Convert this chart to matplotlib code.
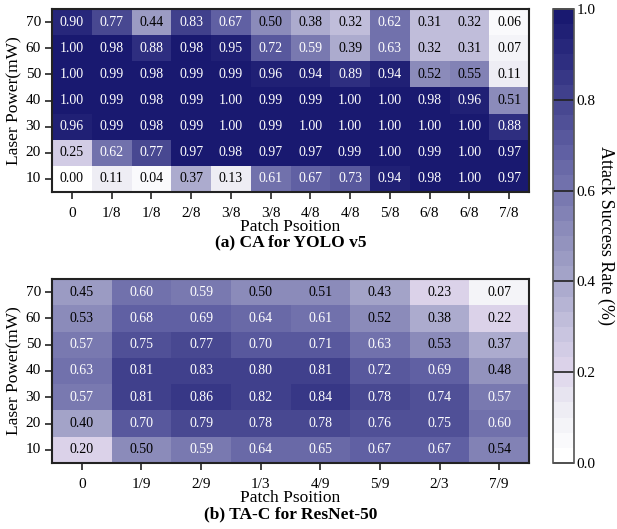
import matplotlib
matplotlib.use("Agg")
import matplotlib.pyplot as plt
import numpy as np
import seaborn as sns
from matplotlib.colors import LinearSegmentedColormap, ListedColormap, Normalize
from matplotlib.cm import ScalarMappable

plt.rcParams['font.family'] = ['Liberation Serif', 'DejaVu Serif']

powers = [70, 60, 50, 40, 30, 20, 10]

pos_a = ['0', '1/8', '1/8', '2/8', '3/8', '3/8', '4/8', '4/8', '5/8', '6/8', '6/8', '7/8']
rate_a = [
    [0.90, 0.77, 0.44, 0.83, 0.67, 0.50, 0.38, 0.32, 0.62, 0.31, 0.32, 0.06],
    [1.00, 0.98, 0.88, 0.98, 0.95, 0.72, 0.59, 0.39, 0.63, 0.32, 0.31, 0.07],
    [1.00, 0.99, 0.98, 0.99, 0.99, 0.96, 0.94, 0.89, 0.94, 0.52, 0.55, 0.11],
    [1.00, 0.99, 0.98, 0.99, 1.00, 0.99, 0.99, 1.00, 1.00, 0.98, 0.96, 0.51],
    [0.96, 0.99, 0.98, 0.99, 1.00, 0.99, 1.00, 1.00, 1.00, 1.00, 1.00, 0.88],
    [0.25, 0.62, 0.77, 0.97, 0.98, 0.97, 0.97, 0.99, 1.00, 0.99, 1.00, 0.97],
    [0.00, 0.11, 0.04, 0.37, 0.13, 0.61, 0.67, 0.73, 0.94, 0.98, 1.00, 0.97],
]

pos_b = ['0', '1/9', '2/9', '1/3', '4/9', '5/9', '2/3', '7/9']
rate_b = [
    [0.45, 0.60, 0.59, 0.50, 0.51, 0.43, 0.23, 0.07],
    [0.53, 0.68, 0.69, 0.64, 0.61, 0.52, 0.38, 0.22],
    [0.57, 0.75, 0.77, 0.70, 0.71, 0.63, 0.53, 0.37],
    [0.63, 0.81, 0.83, 0.80, 0.81, 0.72, 0.69, 0.48],
    [0.57, 0.81, 0.86, 0.82, 0.84, 0.78, 0.74, 0.57],
    [0.40, 0.70, 0.79, 0.78, 0.78, 0.76, 0.75, 0.60],
    [0.20, 0.50, 0.59, 0.64, 0.65, 0.67, 0.67, 0.54],
]

nodes = ['#ffffff', '#eeeef4', '#dcd3ea', '#c3c0dc', '#a6a6ca', '#8f8fbc',
         '#7676ae', '#5e5ea2', '#474790', '#2e2e80', '#191970']
smooth = LinearSegmentedColormap.from_list('asr', nodes)
cmap = ListedColormap(smooth(np.linspace(0, 1, 30)))

fig = plt.figure(figsize=(6.17, 5.29), dpi=100)
W, H = 617, 529


def box(x0, y0, x1, y1):
    return [x0 / W, 1 - y1 / H, (x1 - x0) / W, (y1 - y0) / H]


def panel(ax, data, labels, title, title_y):
    arr = np.array(data)
    sns.heatmap(arr, ax=ax, cmap=cmap, vmin=0, vmax=1, cbar=False,
                annot=True, fmt='.2f', annot_kws={'fontsize': 10},
                xticklabels=labels, yticklabels=powers)
    for t in ax.texts:
        v = float(t.get_text())
        t.set_color('black' if v < 0.555 else 'white')
    for s in ax.spines.values():
        s.set_visible(True)
        s.set_linewidth(1.5)
        s.set_color('#222222')
    ax.tick_params(axis='both', length=5, width=1.2, labelsize=11, color='#222222')
    ax.tick_params(axis='x', pad=6, rotation=0)
    ax.tick_params(axis='y', rotation=0, pad=3)
    ax.set_xlabel('Patch Psoition', fontsize=12.5, labelpad=-1)
    ax.set_ylabel('Laser Power(mW)', fontsize=12.5, labelpad=2)
    fig.text(0.5 * (52 + 529) / W, 1 - title_y / H, title, ha='center', va='center',
             fontsize=12.5, fontweight='bold')


ax1 = fig.add_axes(box(52, 9, 529, 192))
panel(ax1, rate_a, pos_a, '(a) CA for YOLO v5', 242)
ax2 = fig.add_axes(box(52, 279, 529, 463))
panel(ax2, rate_b, pos_b, '(b) TA-C for ResNet-50', 514)

cax = fig.add_axes(box(553, 9, 574, 463))
cb = fig.colorbar(ScalarMappable(norm=Normalize(0, 1), cmap=cmap), cax=cax)
cb.set_ticks([0.0, 0.2, 0.4, 0.6, 0.8, 1.0])
cb.ax.tick_params(direction='in', length=15, width=1.2, color='#222222', labelsize=11, pad=2)
cb.outline.set_linewidth(1.2)
cb.outline.set_edgecolor('#555555')
cb.set_label('Attack Success Rate (%)', rotation=270, fontsize=13, labelpad=13)

fig.savefig('out.png', dpi=100)
